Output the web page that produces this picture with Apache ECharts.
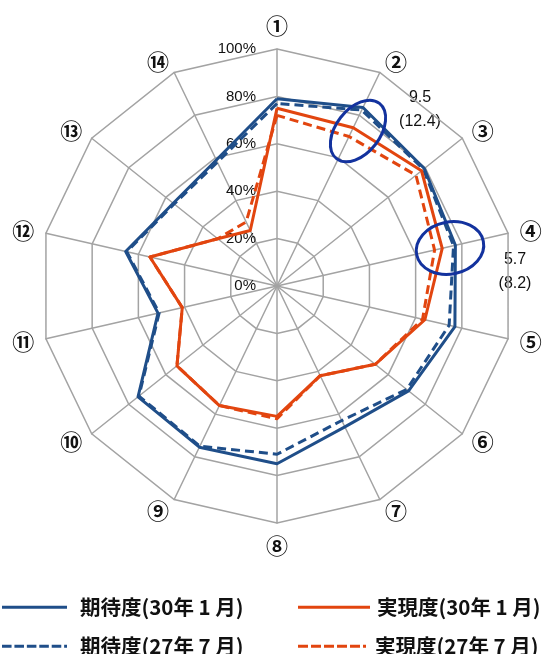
<!DOCTYPE html>
<html>
<head>
<meta charset="utf-8">
<script src="https://cdn.jsdelivr.net/npm/echarts@6/dist/echarts.min.js"></script>
<style>
html,body{margin:0;padding:0;background:#fff;}
#c{width:545px;height:654px;}
</style>
</head>
<body>
<div id="c"></div>
<script>
// ---- data ----
const categories = ['①','②','③','④','⑤','⑥','⑦','⑧','⑨','⑩','⑪','⑫','⑬','⑭'];
const seriesNames = ['期待度(30年 1 月)','期待度(27年 7 月)','実現度(30年 1 月)','実現度(27年 7 月)'];
const expect3001 = [79, 83.6, 79.5, 77.2, 77, 71, 66, 75, 75.5, 75, 51.5, 65.5, 56, 59];
const expect2707 = [77, 82.4, 79, 76.4, 74.5, 70, 63, 71, 75, 74.5, 51, 65, 55.5, 58];
const real3001   = [75, 74.1, 78, 71.5, 64, 53, 42, 55, 56, 54, 41, 55, 32, 26];
const real2707   = [72, 70.0, 75, 68.2, 63, 53, 42, 56, 56, 54, 41, 55, 32, 30];
const percentTicks = [0, 20, 40, 60, 80, 100];
const gapNotes = [['9.5','(12.4)'], ['5.7','(8.2)']];

// radar draws counter-clockwise; reorder so ① is at top and the rest go clockwise
function cw(a){ return [a[0]].concat(a.slice(1).reverse()); }

const BLUE = '#1f4e89', RED = '#e2450f', GRID = '#a3a3a3', MARK = '#13329e';
const dashIcon = 'path://M0,0h10v3h-10z M13,0h10v3h-10z M26,0h10v3h-10z M39,0h10v3h-10z M52,0h10v3h-10z M65,0h3v3h-3z';

const chart = echarts.init(document.getElementById('c'));
const indicator = cw(categories).map(n => ({name: n, min: 0, max: 100}));

function mk(name, data, color, dashed){
  return {
    type: 'radar', name: name, symbol: 'none', silent: true,
    lineStyle: {color: color, width: 3, type: dashed ? [9,5] : 'solid'},
    itemStyle: {color: color},
    data: [{name: name, value: cw(data)}],
    z: dashed ? 3 : 4
  };
}

function lg(name, icon, left, top, w, pad){
  return {left: left, top: top, padding: 0, itemWidth: w, itemHeight: 3,
          textStyle: {fontFamily: 'Noto Sans CJK JP', fontSize: 20.5, fontWeight: 'bold', color: '#111', padding: [0,0,0,pad]},
          selectedMode: false, data: [{name: name, icon: icon}]};
}

const noteFont = '16px "Liberation Sans"';

chart.setOption({
  animation: false,
  radar: {
    center: [277, 286], radius: 237, startAngle: 90,
    shape: 'polygon', splitNumber: 5,
    indicator: indicator,
    axisName: {color: '#111', fontFamily: 'Noto Sans CJK JP', fontSize: 22, fontWeight: 'bold'},
    nameGap: 12,
    splitLine: {lineStyle: {color: GRID, width: 1.5}},
    axisLine: {lineStyle: {color: GRID, width: 1.5}},
    splitArea: {show: false},
    axisTick: {show: false}, axisLabel: {show: false}
  },
  grid: {left: 277, top: 49, width: 1, height: 237},
  xAxis: {type: 'value', show: false},
  yAxis: {
    type: 'value', min: 0, max: 100, interval: 20,
    axisLine: {show: false}, axisTick: {show: false}, splitLine: {show: false},
    axisLabel: {formatter: '{value}%', margin: 21, color: '#111', fontFamily: 'Liberation Sans', fontSize: 15,
      customValues: percentTicks}
  },
  legend: [
    lg(seriesNames[0], 'rect', 2, 597, 65, 8),
    lg(seriesNames[1], dashIcon, 2, 636, 65, 8),
    lg(seriesNames[2], 'rect', 298, 597, 72, 2),
    lg(seriesNames[3], dashIcon, 298, 636, 72, 2)
  ],
  series: [
    mk(seriesNames[1], expect2707, BLUE, true),
    mk(seriesNames[3], real2707, RED, true),
    mk(seriesNames[0], expect3001, BLUE, false),
    mk(seriesNames[2], real3001, RED, false)
  ],
  graphic: [
    {type: 'ellipse', shape: {cx: 0, cy: 0, rx: 22, ry: 35}, x: 358, y: 131, rotation: -0.66,
     style: {fill: 'none', stroke: MARK, lineWidth: 3}, z: 10},
    {type: 'ellipse', shape: {cx: 0, cy: 0, rx: 34, ry: 26}, x: 450, y: 248, rotation: 0.2,
     style: {fill: 'none', stroke: MARK, lineWidth: 3}, z: 10},
    {type: 'text', x: 420, y: 98, style: {text: gapNotes[0][0], fill: '#111', font: noteFont, align: 'center', verticalAlign: 'middle'}},
    {type: 'text', x: 420, y: 122, style: {text: gapNotes[0][1], fill: '#111', font: noteFont, align: 'center', verticalAlign: 'middle'}},
    {type: 'text', x: 515, y: 260, style: {text: gapNotes[1][0], fill: '#111', font: noteFont, align: 'center', verticalAlign: 'middle'}},
    {type: 'text', x: 515, y: 284, style: {text: gapNotes[1][1], fill: '#111', font: noteFont, align: 'center', verticalAlign: 'middle'}}
  ]
});
</script>
</body>
</html>
